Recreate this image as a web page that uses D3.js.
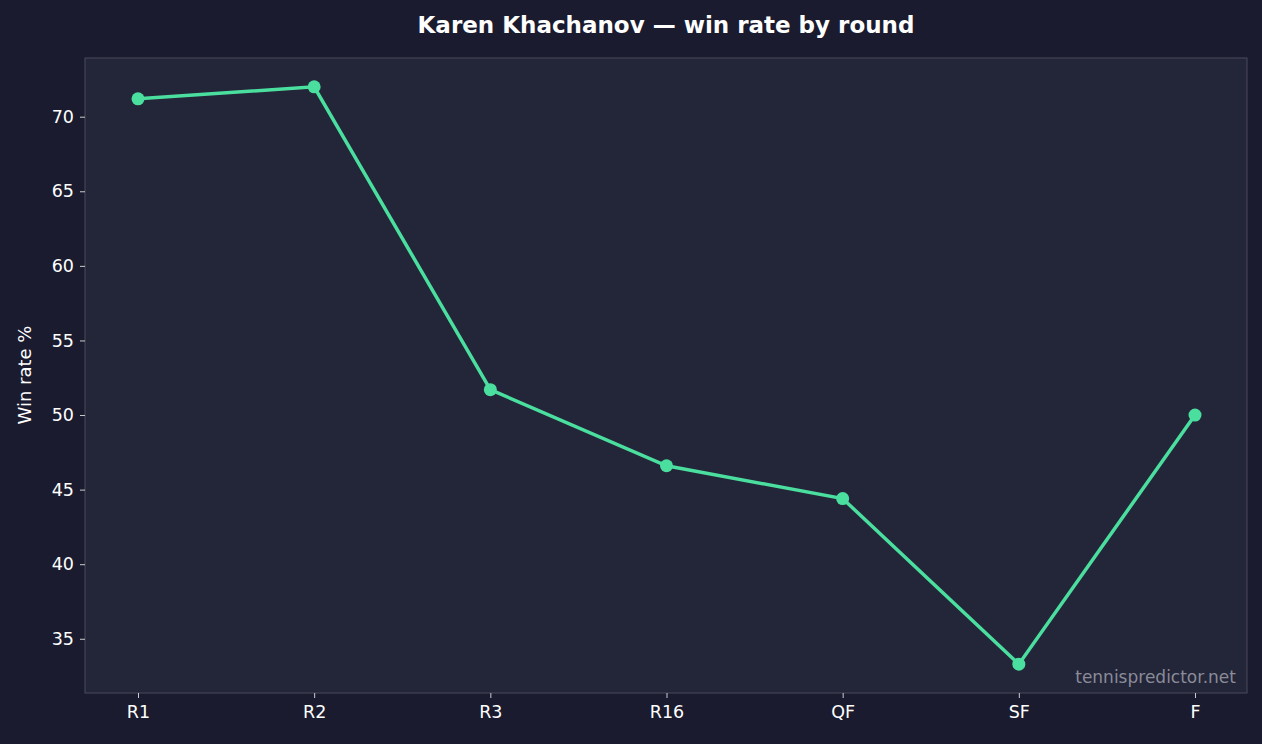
<!DOCTYPE html>
<html><head><meta charset="utf-8">
<script src="https://cdn.jsdelivr.net/npm/d3@7"></script>
<style>body{margin:0;background:#1a1b2e;}svg{display:block;font-family:"DejaVu Sans",sans-serif;}</style>
</head><body><svg id="c" width="1262" height="744"></svg>
<script>
const rounds = ["R1","R2","R3","R16","QF","SF","F"];
const winRate = [71.2,72.0,51.7,46.6,44.4,33.3,50.0];
const yTicks = [35,40,45,50,55,60,65,70];

const svg = d3.select("#c");
const L=85,R=1247,T=58,B=693;
svg.append("rect").attr("width",1262).attr("height",744).attr("fill","#1a1b2e");
svg.append("rect").attr("x",L).attr("y",T).attr("width",R-L).attr("height",B-T)
  .attr("fill","#232538").attr("stroke","#4a4b5a").attr("stroke-width",1);
const x = d3.scalePoint().domain(rounds).range([138,1195]);
const mn=d3.min(winRate), mx=d3.max(winRate), pad=(mx-mn)*0.05;
const y = d3.scaleLinear().domain([mn-pad,mx+pad]).range([B,T]);
const ya = svg.append("g").attr("transform",`translate(${L},0)`).call(d3.axisLeft(y).tickValues(yTicks).tickSize(5).tickPadding(6));
const xa = svg.append("g").attr("transform",`translate(0,${B})`).call(d3.axisBottom(x).tickSize(5).tickPadding(8));
[ya,xa].forEach(a=>{a.select(".domain").remove();a.selectAll("line").attr("stroke","#cccccc");
  a.selectAll("text").attr("fill","#ffffff").attr("font-size",17.5).attr("font-family","DejaVu Sans");});
svg.append("path").datum(winRate).attr("fill","none").attr("stroke","#4ade9f").attr("stroke-width",3.5)
  .attr("d",d3.line().x((d,i)=>x(rounds[i])).y(d=>y(d)));
svg.selectAll("circle.p").data(winRate).enter().append("circle").attr("cx",(d,i)=>x(rounds[i])).attr("cy",d=>y(d))
  .attr("r",6.5).attr("fill","#4ade9f");
svg.append("text").attr("x",666).attr("y",33).attr("text-anchor","middle").attr("fill","#fff")
  .attr("font-size",23).attr("font-weight","bold").text("Karen Khachanov — win rate by round");
svg.append("text").attr("transform","translate(31,375) rotate(-90)").attr("text-anchor","middle")
  .attr("fill","#fff").attr("font-size",18).text("Win rate %");
svg.append("text").attr("x",1236).attr("y",683).attr("text-anchor","end").attr("fill","#8a8b99")
  .attr("font-size",17).text("tennispredictor.net");
</script></body></html>
